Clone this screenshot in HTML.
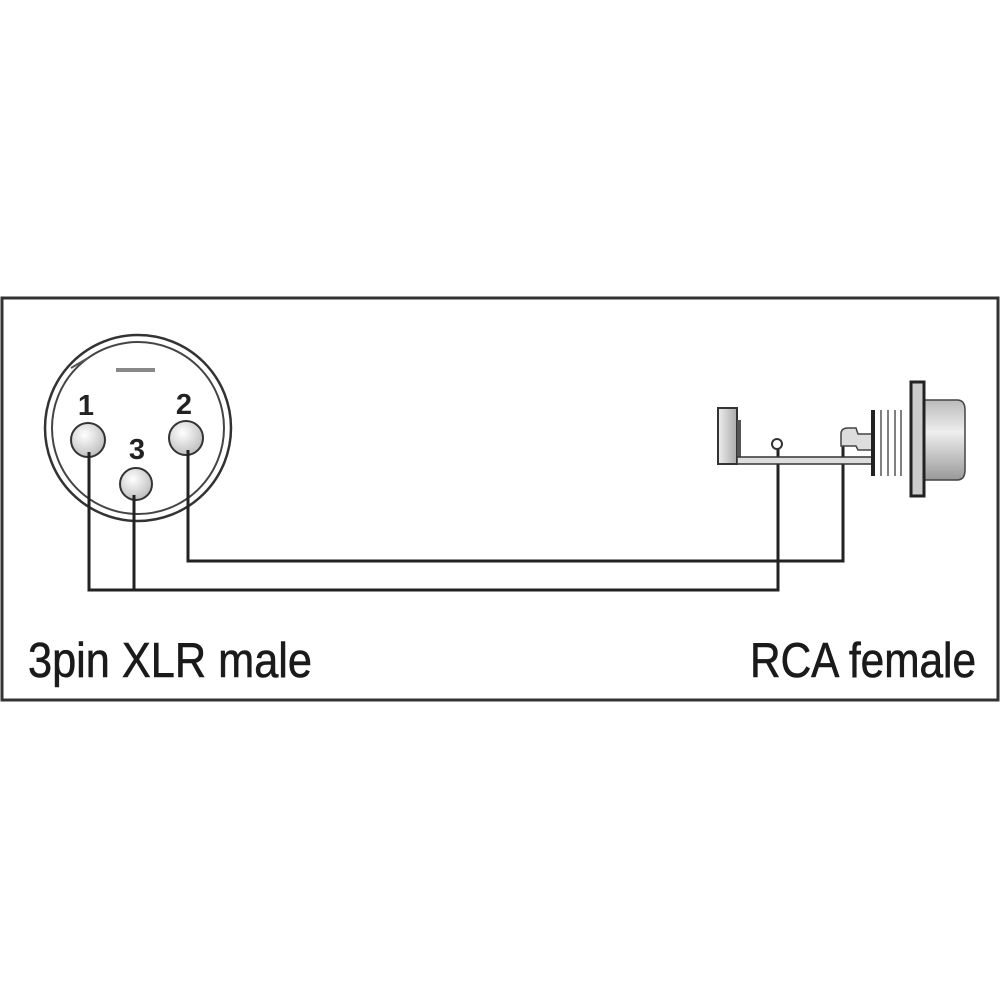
<!DOCTYPE html>
<html><head><style>html,body{margin:0;padding:0;background:#fff}svg{display:block}</style></head>
<body>
<svg width="1000" height="1000" viewBox="0 0 1000 1000" xmlns="http://www.w3.org/2000/svg">
<defs>
<radialGradient id="pin" cx="0.4" cy="0.35" r="0.7"><stop offset="0" stop-color="#fff"/><stop offset="1" stop-color="#bbb"/></radialGradient>
<linearGradient id="body" x1="0" y1="0" x2="0" y2="1"><stop offset="0" stop-color="#bbb"/><stop offset="0.4" stop-color="#eee"/><stop offset="1" stop-color="#999"/></linearGradient>
<linearGradient id="blk" x1="0" y1="0" x2="1" y2="0"><stop offset="0" stop-color="#eee"/><stop offset="1" stop-color="#aaa"/></linearGradient>
</defs>
<rect x="2" y="298" width="996" height="402" fill="#fff" stroke="#333" stroke-width="3"/>
<!-- XLR -->
<circle cx="138" cy="428" r="93" fill="#fff" stroke="#333" stroke-width="2.5"/>
<circle cx="138" cy="428" r="86" fill="none" stroke="#444" stroke-width="2"/>
<line x1="116" y1="370" x2="155" y2="370" stroke="#888" stroke-width="4"/>
<line x1="71" y1="368" x2="88" y2="358" stroke="#555" stroke-width="2"/>
<g font-family="Liberation Sans, sans-serif" font-weight="bold" font-size="29" fill="#222" text-anchor="middle">
<text x="86" y="415">1</text><text x="184" y="414">2</text><text x="137" y="459">3</text></g>
<circle cx="88" cy="440" r="17" fill="url(#pin)" stroke="#333" stroke-width="2"/>
<circle cx="186" cy="438" r="17" fill="url(#pin)" stroke="#333" stroke-width="2"/>
<circle cx="136" cy="484" r="16" fill="url(#pin)" stroke="#333" stroke-width="2"/>
<!-- wires -->
<g fill="none" stroke="#222" stroke-width="3">
<polyline points="89,452 89,590 778,590 778,449"/>
<line x1="134" y1="495" x2="134" y2="590"/>
<polyline points="188,450 188,561 843,561 843,442"/>
</g>
<!-- RCA -->
<rect x="718" y="408" width="19" height="56" fill="url(#blk)" stroke="#333" stroke-width="2"/>
<rect x="737" y="420" width="4" height="40" fill="#555"/>
<rect x="737" y="457" width="136" height="7" fill="#ddd" stroke="#333" stroke-width="1.5"/>
<circle cx="777" cy="444" r="5" fill="#fff" stroke="#333" stroke-width="2"/>
<path d="M841,446 L841,434 Q841,428 848,428 L856,428 L858,434 L872,434 L872,450 L858,450 L856,446 Z" fill="#ddd" stroke="#444" stroke-width="1.5"/>
<rect x="871" y="410" width="4" height="66" fill="#222"/>
<g stroke="#555" stroke-width="1.5"><line x1="881" y1="410" x2="881" y2="476"/><line x1="888" y1="410" x2="888" y2="476"/><line x1="895" y1="410" x2="895" y2="476"/><line x1="901" y1="410" x2="901" y2="476"/></g>
<path d="M924,400 L957,400 Q965,400 965,410 L965,470 Q965,480 957,480 L924,480 Z" fill="url(#body)" stroke="#444" stroke-width="1.5"/>
<rect x="911" y="382" width="13" height="114" fill="#ccc" stroke="#222" stroke-width="3"/>
<!-- labels -->
<g font-family="Liberation Sans Narrow, Liberation Sans, sans-serif" font-size="49" fill="#1a1a1a" stroke="#1a1a1a" stroke-width="0.6">
<text x="28" y="677" textLength="284" lengthAdjust="spacingAndGlyphs">3pin XLR male</text>
<text x="750" y="677" textLength="226" lengthAdjust="spacingAndGlyphs">RCA female</text>
</g>
</svg>
</body></html>
